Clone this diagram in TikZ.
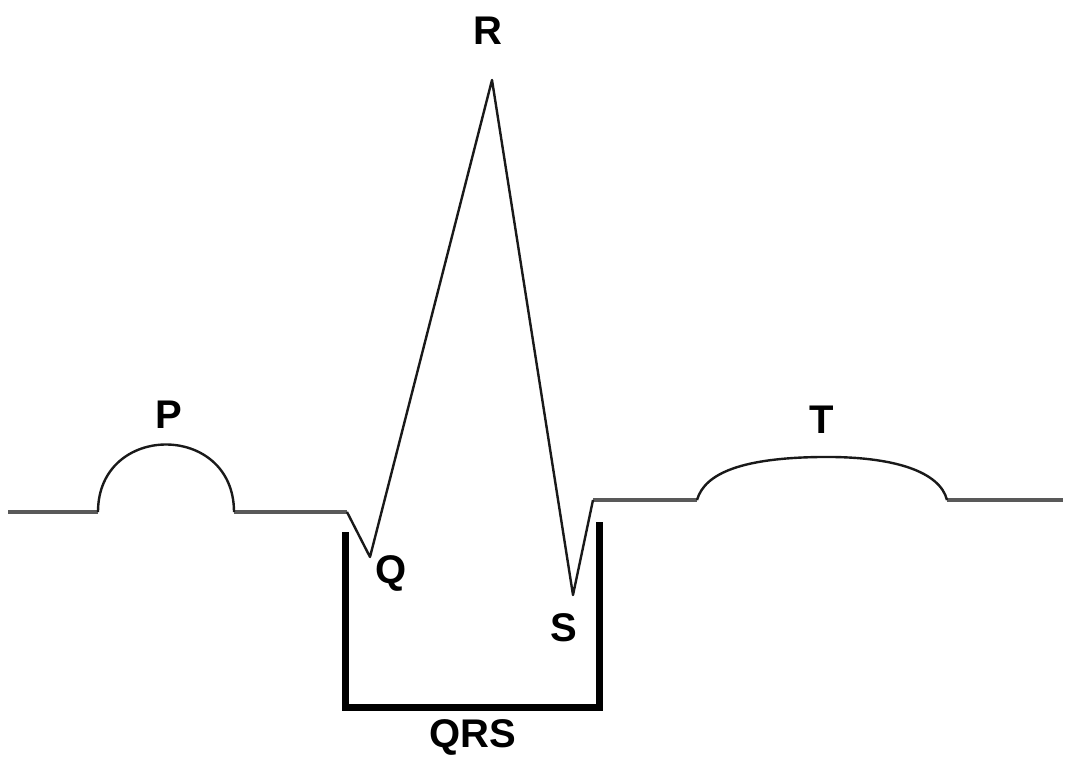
\documentclass[tikz,border=0pt]{standalone}
\usepackage{fontspec}
\setmainfont{Liberation Sans}
\begin{document}
\begin{tikzpicture}[x=1pt,y=-1pt,
  lbl/.style={font=\fontsize{40}{48}\selectfont\bfseries, inner sep=0pt},
  base/.style={draw=black!65, line width=3.5pt},
  wave/.style={draw=black!90, line width=2.4pt, line join=round},
  qrsbox/.style={draw=black, line width=7pt, line join=miter}]
\useasboundingbox (0,0) rectangle (1066,762);
\fill[white] (0,0) rectangle (1066,762);
% key points
\coordinate (b0) at (8,512);
\coordinate (p0) at (98,512);
\coordinate (p1) at (234,512);
\coordinate (q0) at (347,512);
\coordinate (Qp) at (370,557);
\coordinate (Rp) at (492,80);
\coordinate (Sp) at (573,595);
\coordinate (s1) at (593,500);
\coordinate (t0) at (697,500);
\coordinate (tm) at (820,457);
\coordinate (t1) at (947,500);
\coordinate (b1) at (1063,500);
% baseline segments
\draw[base] (b0) -- (p0);
\draw[base] (p1) -- (q0);
\draw[base] (s1) -- (t0);
\draw[base] (t1) -- (b1);
% waves
\draw[wave] (p0) .. controls (98,422) and (234,422) .. (p1);
\draw[wave] (q0) -- (Qp) -- (Rp) -- (Sp) -- (s1);
\draw[wave] (t0) .. controls (705,472) and (745,458) .. (tm)
            .. controls (895,456) and (940,472) .. (t1);
% QRS box
\coordinate (k0) at (345,532);
\coordinate (k1) at (345,707);
\coordinate (k2) at (599,707);
\coordinate (k3) at (599,522);
\draw[qrsbox] (k0) -- (k1) -- (k2) -- (k3);
% labels
\node[lbl] (P) at (169,415) {P};
\node[lbl] (R) at (488,31) {R};
\node[lbl] (Q) at (391,573) {Q};
\node[lbl] (S) at (564,628) {S};
\node[lbl] (T) at (822,420) {T};
\node[lbl] (QRS) at (473,737) {QRS};
\end{tikzpicture}
\end{document}
